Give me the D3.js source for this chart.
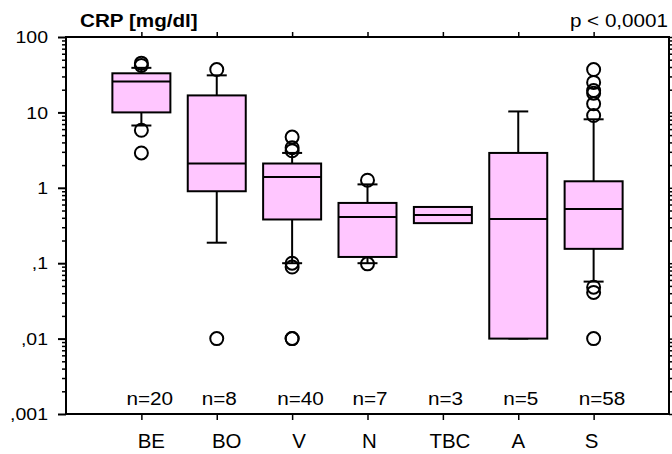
<!DOCTYPE html>
<html>
<head>
<meta charset="utf-8">
<script src="https://cdn.jsdelivr.net/npm/d3@7"></script>
<style>
  body { margin: 0; background: #fff; }
  svg { display: block; font-family: "Liberation Sans", Arial, sans-serif; }
</style>
</head>
<body>
<svg width="672" height="454"></svg>
<script>
// categories and counts
const categories = ["BE", "BO", "V", "N", "TBC", "A", "S"];
const counts     = [20, 8, 40, 7, 3, 5, 58];

// box statistics (mg/dl), null = no whisker
const q1        = [10,   0.9,  0.38, 0.121, 0.34,  0.01,  0.155];
const medians   = [25.7, 2.1,  1.39, 0.41,  0.436, 0.386, 0.525];
const q3        = [33,   16.8, 2.1,  0.63,  0.557, 2.9,   1.22];
const whiskLow  = [6.7,  0.187, 0.1, 0.1,   null,  0.01,  0.057];
const whiskHigh = [39,   31,   2.9,  1.11,  null,  10.3,  8.1];

// outliers per category
const outliers = [
    [45, 42, 5.8, 2.9],
    [37, 0.01],
    [4.7, 3.4, 3.1, 0.1, 0.089, 0.01, 0.01],
    [1.26, 0.098],
    [],
    [],
    [37, 25, 19.5, 18, 13, 9.1, 0.048, 0.041, 0.01]
];

const yMajor = [100, 10, 1, 0.1, 0.01, 0.001];

const plot = { left: 66, right: 669, top: 37, bottom: 414 };
const SX = 1.18; // horizontal text stretch seen in the picture
const fill = "#ffc6ff";
// the category labels sit a little off their ticks in the original
const labelShift = [10, 10, 7, 2, 7, 0, -2];

const svg = d3.select("svg");

const y = d3.scaleLog().domain([0.001, 100]).range([plot.bottom, plot.top]);
const x = d3.scalePoint().domain(categories).range([plot.left, plot.right]).padding(1);

const fmt = d => d >= 1 ? String(d) : String(d).replace("0.", ",");

// minor ticks 2..9 in every decade
let yMinor = [];
for (let e = -3; e < 2; e++) {
    for (let k = 2; k <= 9; k++) yMinor.push(k * Math.pow(10, e));
}

function stretch(sel, tx, ty, sx, sy) {
    sel.attr("transform", `translate(${tx},${ty}) scale(${sx || SX},${sy || 1})`);
}

// left axis: minor then major
svg.append("g")
    .attr("transform", `translate(${plot.left},0)`)
    .call(d3.axisLeft(y).tickValues(yMinor).tickSize(4).tickFormat(""))
    .call(g => g.select(".domain").remove())
    .call(g => g.selectAll("line").attr("stroke", "#000").attr("stroke-width", 1.5));

let gLeft = svg.append("g")
    .attr("transform", `translate(${plot.left},0)`)
    .call(d3.axisLeft(y).tickValues(yMajor).tickSize(8).tickFormat(fmt));
gLeft.select(".domain").remove();
gLeft.selectAll("line").attr("stroke", "#000").attr("stroke-width", 2);
gLeft.selectAll("text")
    .attr("x", null).attr("dy", "0.35em")
    .attr("font-size", 16.5).attr("fill", "#000")
    .attr("transform", `translate(-18,0) scale(${SX},1)`);

// right axis, ticks outward
svg.append("g")
    .attr("transform", `translate(${plot.right},0)`)
    .call(d3.axisRight(y).tickValues(yMinor.concat(yMajor)).tickSize(4).tickFormat(""))
    .call(g => g.select(".domain").remove())
    .call(g => g.selectAll("line").attr("stroke", "#000").attr("stroke-width", 1.5));

// top and bottom category ticks
svg.append("g")
    .attr("transform", `translate(0,${plot.top})`)
    .call(d3.axisTop(x).tickSize(5).tickFormat(""))
    .call(g => g.select(".domain").remove())
    .call(g => g.selectAll("line").attr("stroke", "#000").attr("stroke-width", 1.5));

let gBottom = svg.append("g")
    .attr("transform", `translate(0,${plot.bottom})`)
    .call(d3.axisBottom(x).tickSize(6));
gBottom.select(".domain").remove();
gBottom.selectAll("line").attr("stroke", "#000").attr("stroke-width", 1.5);
gBottom.selectAll("text").remove();

// frame
svg.append("rect")
    .attr("x", plot.left).attr("y", plot.top)
    .attr("width", plot.right - plot.left).attr("height", plot.bottom - plot.top)
    .attr("fill", "none").attr("stroke", "#000").attr("stroke-width", 2);

// category labels
svg.append("g").selectAll("text")
    .data(categories)
    .join("text")
    .attr("text-anchor", "middle")
    .attr("font-size", 19.5)
    .each(function (d, i) { stretch(d3.select(this), x(d) + labelShift[i], 448, 1.05, 1.06); })
    .text(d => d);

// n= labels
svg.append("g").selectAll("text")
    .data(categories)
    .join("text")
    .attr("text-anchor", "start")
    .attr("font-size", 18.5)
    .each(function (d) { stretch(d3.select(this), x(d) - 15, 405, 1.12, 1); })
    .text((d, i) => "n=" + counts[i]);

// boxes
const boxHalf = 29, capHalf = 10;
const boxes = categories.map((c, i) => ({
    c: c, q1: q1[i], med: medians[i], q3: q3[i],
    lo: whiskLow[i], hi: whiskHigh[i], out: outliers[i]
}));

const gBox = svg.append("g")
    .attr("stroke", "#000").attr("stroke-width", 2);

boxes.forEach(b => {
    const cx = x(b.c);
    const g = gBox.append("g");
    if (b.hi !== null) {
        g.append("line").attr("x1", cx).attr("x2", cx).attr("y1", y(b.q3)).attr("y2", y(b.hi));
        g.append("line").attr("x1", cx - capHalf).attr("x2", cx + capHalf).attr("y1", y(b.hi)).attr("y2", y(b.hi));
    }
    if (b.lo !== null) {
        g.append("line").attr("x1", cx).attr("x2", cx).attr("y1", y(b.q1)).attr("y2", y(b.lo));
        g.append("line").attr("x1", cx - capHalf).attr("x2", cx + capHalf).attr("y1", y(b.lo)).attr("y2", y(b.lo));
    }
    g.append("rect")
        .attr("x", cx - boxHalf).attr("width", boxHalf * 2)
        .attr("y", y(b.q3)).attr("height", y(b.q1) - y(b.q3))
        .attr("fill", fill);
    g.append("line")
        .attr("x1", cx - boxHalf).attr("x2", cx + boxHalf)
        .attr("y1", y(b.med)).attr("y2", y(b.med));
    g.selectAll("circle")
        .data(b.out)
        .join("circle")
        .attr("cx", cx).attr("cy", d => y(d)).attr("r", 6.5)
        .attr("fill", "none");
});

// titles
svg.append("text")
    .attr("font-size", 17.5).attr("font-weight", "bold")
    .call(s => stretch(s, 80, 27))
    .text("CRP [mg/dl]");

svg.append("text")
    .attr("font-size", 17.5).attr("text-anchor", "end")
    .call(s => stretch(s, 668, 27))
    .text("p < 0,0001");
</script>
</body>
</html>
